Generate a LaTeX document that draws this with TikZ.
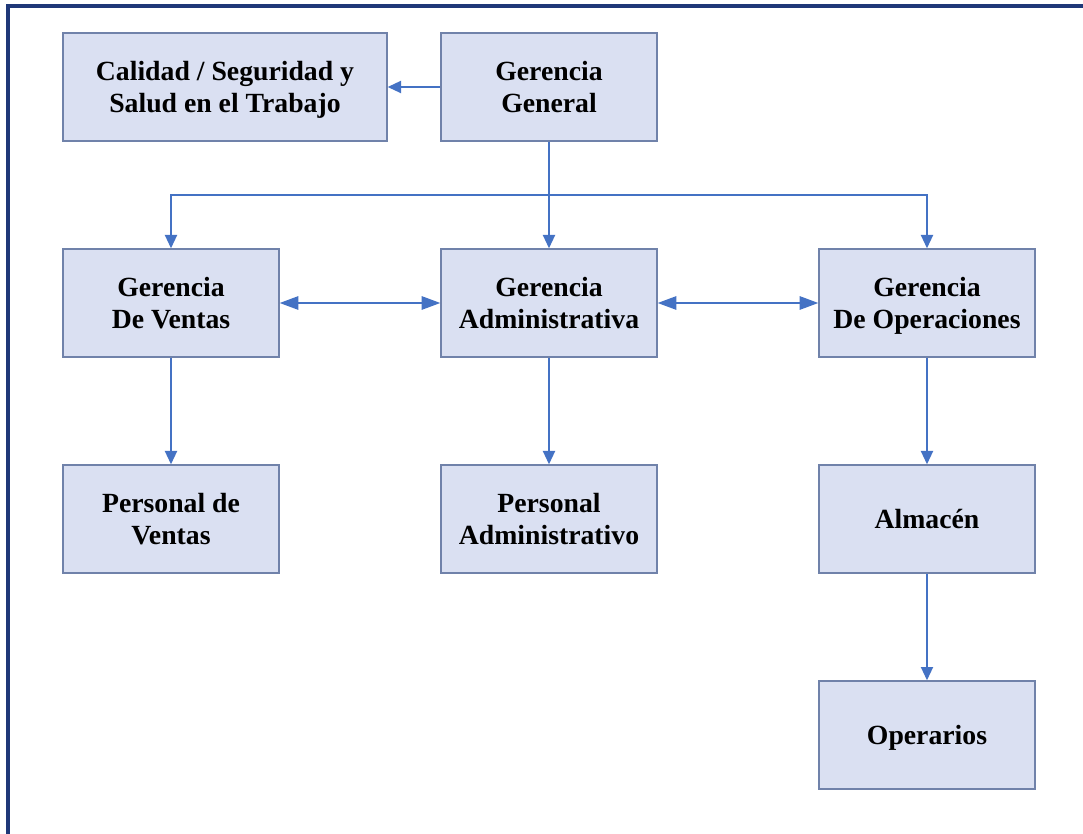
\documentclass[tikz,border=0pt]{standalone}
\usepackage{fontspec}
\setmainfont{Liberation Serif}
\usetikzlibrary{arrows.meta}

\definecolor{boxfill}{RGB}{218,224,242}
\definecolor{boxline}{RGB}{112,130,170}
\definecolor{arrowblue}{RGB}{68,114,196}
\definecolor{framenavy}{RGB}{31,56,120}

\begin{document}
\begin{tikzpicture}[x=0.75pt, y=-0.75pt,
    unit/.style={draw=boxline, fill=boxfill, rectangle, line width=1pt,
        minimum width=162pt, minimum height=81pt, align=center, text depth=0pt,
        font=\fontsize{20.8}{24}\selectfont\bfseries},
    link/.style={draw=arrowblue, line width=1.4pt, -{Triangle[length=10pt, width=9pt]}},
    both/.style={draw=arrowblue, line width=1.4pt,
        {Triangle[length=14pt, width=10pt]}-{Triangle[length=14pt, width=10pt]}}]
    \useasboundingbox (0,0) rectangle (1083,834);
    \draw[framenavy, line width=2.4pt] (1083,6) -- (8,6) -- (8,834);

    \node[unit, minimum width=243pt] (calidad) at (225,87) {Calidad / Seguridad y\\Salud en el Trabajo};
    \node[unit] (general) at (549,87) {Gerencia\\General};

    \node[unit] (ventas) at (171,303) {Gerencia\\De Ventas};
    \node[unit] (admin) at (549,303) {Gerencia\\Administrativa};
    \node[unit] (oper) at (927,303) {Gerencia\\De Operaciones};

    \node[unit] (pventas) at (171,519) {Personal de\\Ventas};
    \node[unit] (padmin) at (549,519) {Personal\\Administrativo};
    \node[unit] (almacen) at (927,519) {Almac\'en};
    \node[unit] (operarios) at (927,735) {Operarios};

    \coordinate (bus) at (549,195);

    \draw[link] (general) -- (calidad);
    \draw[link] (general) -- (admin);
    \draw[link] (bus) -| (ventas);
    \draw[link] (bus) -| (oper);

    \draw[both] (ventas) -- (admin);
    \draw[both] (admin) -- (oper);

    \draw[link] (ventas) -- (pventas);
    \draw[link] (admin) -- (padmin);
    \draw[link] (oper) -- (almacen);
    \draw[link] (almacen) -- (operarios);
\end{tikzpicture}
\end{document}
